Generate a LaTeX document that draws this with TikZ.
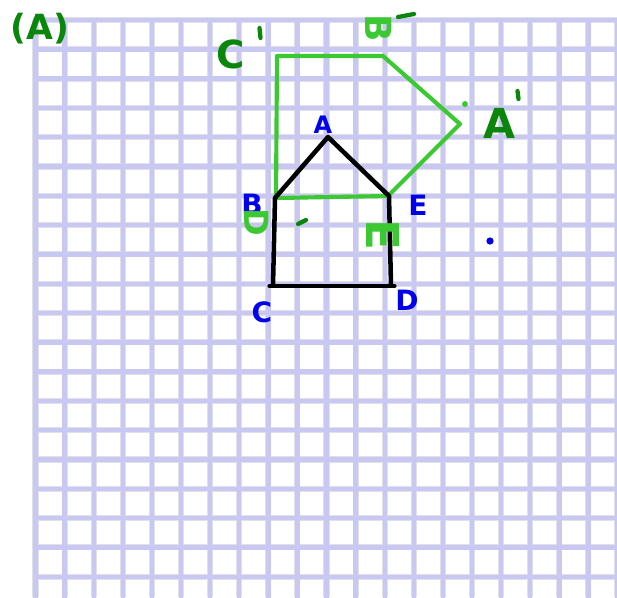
\documentclass[tikz,border=0pt]{standalone}
\usepackage{fontspec}
\setmainfont{DejaVu Sans}
\definecolor{lav}{RGB}{200,200,242}
\definecolor{rim}{RGB}{224,224,230}
\definecolor{imgreen}{RGB}{60,200,50}
\definecolor{dkgreen}{RGB}{10,135,10}
\definecolor{pen}{RGB}{0,0,235}
\begin{document}
\begin{tikzpicture}[x=0.75pt,y=-0.75pt,line join=round,
	hand/.style={font=\bfseries\fontsize{#1}{#1}\selectfont,inner sep=0pt},
	rimline/.style={rim,line width=4.6pt},
	lavline/.style={lav,line width=3.3pt,line cap=rect},
	house/.style={black,line width=3.4pt},
	image/.style={imgreen,line width=3.1pt,line cap=round},
	tick/.style={dkgreen,line width=3.2pt,line cap=round}]
	\useasboundingbox (0,0) rectangle (617,597);
	\def\gx{29.1}
	\def\gy{29.3}
	% squared paper
	\foreach \i in {0,...,20}{\draw[rimline] ({35.5+\i*\gx},20) -- ({35.5+\i*\gx},597);}
	\foreach \j in {0,...,19}{\draw[rimline] (35.5,{20+\j*\gy}) -- (617,{20+\j*\gy});}
	\foreach \i in {0,...,20}{\draw[lavline] ({35.5+\i*\gx},20) -- ({35.5+\i*\gx},597);}
	\foreach \j in {0,...,19}{\draw[lavline] (35.5,{20+\j*\gy}) -- (617,{20+\j*\gy});}
	% vertices
	\coordinate (A) at (328,137);
	\coordinate (B) at (275,198);
	\coordinate (C) at (273,286);
	\coordinate (D) at (391,286);
	\coordinate (E) at (389,196);
	\coordinate (Ap) at (460,124);
	\coordinate (Bp) at (383,56);
	\coordinate (Cp) at (277,56);
	\coordinate (Dp) at (276,198);
	\coordinate (Ep) at (388,196);
	% image
	\draw[image] (Dp) -- (Cp) -- (Bp) -- (Ap) -- (Ep) -- cycle;
	% object
	\draw[house] (D) -- (E) -- (A) -- (B) -- (C);
	\draw[house,line cap=round] ([xshift=-2.5pt]C) -- ([xshift=2.5pt]D);
	% labels
	\node[hand=26,dkgreen] (title) at (40,29) {(A)};
	\node[hand=18,pen] (lA) at (323,125) {A};
	\node[hand=21,pen] (lB) at (252,204) {B};
	\node[hand=21,pen] (lC) at (262,312) {C};
	\node[hand=21,pen] (lD) at (407,300) {D};
	\node[hand=21,pen] (lE) at (418,205) {E};
	\node[hand=29,dkgreen] (lCp) at (231,54) {C};
	\node[hand=31,dkgreen] (lAp) at (499,123) {A};
	\node[hand=27,imgreen,rotate=-90] (lBp) at (379,28) {B};
	\node[hand=25,imgreen,rotate=-90] (lDp) at (257,222) {D};
	\node[hand=34,imgreen,rotate=-90] (lEp) at (383,235) {E};
	% primes and dots
	\draw[tick] (259.5,28) -- (260.5,38);
	\draw[tick] (517.5,91) -- (518.5,99);
	\draw[tick] (398,17) -- (414,14);
	\draw[tick] (298,224) -- (306,220);
	\fill[imgreen] (465,104) circle (3);
	\fill[pen] (490,241) circle (3.6);
\end{tikzpicture}
\end{document}
